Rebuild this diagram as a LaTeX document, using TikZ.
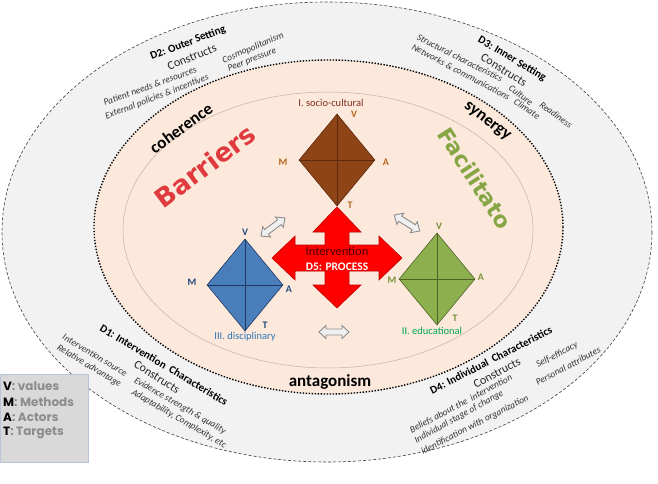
\documentclass[tikz,border=0pt]{standalone}
\usepackage{fontspec}
\setmainfont{Carlito}
\newfontfamily\legfont{Poppins}
\newfontfamily\bigfont{DejaVu Sans}
\usetikzlibrary{shapes.geometric}

\definecolor{outergray}{HTML}{F2F2F2}
\definecolor{peach}{HTML}{FCE9DB}
\definecolor{thinline}{HTML}{C9AFA5}
\definecolor{brownfill}{HTML}{8E4417}
\definecolor{brownline}{HTML}{5C2A0E}
\definecolor{brownlab}{HTML}{B8651B}
\definecolor{browntitle}{HTML}{7F2F1F}
\definecolor{bluefill}{HTML}{4A7EBB}
\definecolor{blueline}{HTML}{1F3864}
\definecolor{bluelab}{HTML}{1F497D}
\definecolor{bluetitle}{HTML}{2E75B6}
\definecolor{greenfill}{HTML}{8DB04F}
\definecolor{greenline}{HTML}{4F6228}
\definecolor{greenlab}{HTML}{77933C}
\definecolor{greentitle}{HTML}{00A550}
\definecolor{redarrow}{HTML}{FF0000}
\definecolor{redarrowline}{HTML}{C00000}
\definecolor{darkred}{HTML}{4A0000}
\definecolor{barred}{HTML}{E03A3E}
\definecolor{facgreen}{HTML}{86A646}
\definecolor{leggray}{HTML}{D9D9D9}
\definecolor{legborder}{HTML}{B9C5D6}
\definecolor{legtext}{HTML}{8C8C8C}

\tikzset{
 dia/.style={shape=diamond, minimum width=76pt, minimum height=92pt, inner sep=0pt, line width=0.6pt},
 vmat/.style={font=\bfseries\fontsize{10}{10}\selectfont, inner sep=0pt},
 dtitle/.style={font=\fontsize{10.5}{10.5}\selectfont, inner sep=0pt},
 dhead/.style={font=\bfseries\fontsize{11}{11}\selectfont, inner sep=0pt},
 dcons/.style={font=\fontsize{12}{12}\selectfont, inner sep=0pt, text=black!85},
 ditem/.style={font=\itshape\fontsize{9.4}{9.4}\selectfont, inner sep=0pt, text=black!80},
 rel/.style={font=\bfseries\fontsize{17}{17}\selectfont, inner sep=0pt},
 grayarrow/.style={fill=black!6, draw=black!45, line width=0.9pt},
 legline/.style={anchor=west, font=\legfont\bfseries\fontsize{12}{12}\selectfont, text=legtext, inner sep=0pt},
 bigword/.style={font=\bigfont\bfseries\fontsize{26}{26}\selectfont, inner sep=0pt},
 facword/.style={font=\bigfont\bfseries\fontsize{22}{22}\selectfont, inner sep=0pt},
}

\begin{document}
\begin{tikzpicture}[x=1pt,y=-1pt]
\useasboundingbox (0,0) rectangle (658,484);
\fill[white] (0,0) rectangle (658,484);

% rings
\draw[fill=outergray, draw=black!75, dash pattern=on 3pt off 2pt, line width=0.6pt] (327,232) ellipse [x radius=325, y radius=230];
\draw[fill=peach, draw=black, dash pattern=on 1.4pt off 1.6pt, line width=1.4pt] (328.5,227) ellipse [x radius=234.5, y radius=167];
\draw[thinline, line width=0.5pt] (328,230) ellipse [x radius=205, y radius=138];

% outer ring texts: D2
\node[dhead, rotate=21] (d2h) at (188,43) {D2: Outer Setting};
\node[dcons, rotate=22] (d2c) at (192,57) {Constructs};
\node[ditem, rotate=20] (d2a) at (150,86) {Patient needs \& resources};
\node[ditem, rotate=21] (d2b) at (157,97) {External policies \& incentives};
\node[ditem, rotate=23] (d2d) at (253,48) {Cosmopolitanism};
\node[ditem, rotate=22] (d2e) at (252,60) {Peer pressure};
% D3
\node[dhead, rotate=-31] (d3h) at (512,59) {D3: Inner Setting};
\node[dcons, rotate=-32] (d3c) at (504,70) {Constructs};
\node[ditem, rotate=-27] (d3a) at (460,58) {Structural characteristics};
\node[ditem, rotate=-37] (d3b) at (521,95) {Culture};
\node[ditem, rotate=-37] (d3d) at (556,115) {Readiness};
\node[ditem, rotate=-28] (d3e) at (461,72) {Networks \& communications};
\node[ditem, rotate=-34] (d3f) at (527,109) {Climate};
% D1
\node[dhead, rotate=-31] (d1h) at (164,365) {D1: Intervention\ \ Characteristics};
\node[dcons, rotate=-33] (d1c) at (157,377) {Constructs};
\node[ditem, rotate=-31] (d1a) at (95,355) {Intervention source};
\node[ditem, rotate=-31] (d1b) at (89,366) {Relative advantage};
\node[ditem, rotate=-30] (d1d) at (180,406) {Evidence strength \& quality};
\node[ditem, rotate=-30] (d1e) at (179,419) {Adaptability, Complexity, etc};
% D4
\node[dhead, rotate=27] (d4h) at (491,360) {D4: Individual\ \ Characteristics};
\node[dcons, rotate=29] (d4c) at (497,373) {Constructs};
\node[ditem, rotate=28] (d4a) at (557,355) {Self-efficacy};
\node[ditem, rotate=28] (d4b) at (568,366) {Personal attributes};
\node[ditem, rotate=28] (d4d) at (461,404) {Beliefs about the\ \ intervention};
\node[ditem, rotate=29] (d4e) at (459,417) {Individual stage of change};
\node[ditem, rotate=27] (d4f) at (475,425) {identification with organization};

% relation words
\node[rel, rotate=36] (coh) at (181,128) {coherence};
\node[rel, rotate=-37] (syn) at (487,122) {synergy};
\node[rel] (ant) at (330,382) {antagonism};

% Barriers / Facilitato
\node[bigword, text=barred, rotate=37] (bar) at (205,166) {Barriers};
\node[facword, text=facgreen, rotate=-57] (fac) at (475,178) {Facilitato};

% diamonds
\node[dia, fill=brownfill, draw=brownline] (brown) at (337,160) {};
\draw[brownline, line width=0.8pt] (brown.north) -- (brown.south) (brown.west) -- (brown.east);
\node[dia, fill=bluefill, draw=blueline] (blue) at (245,285) {};
\draw[blueline, line width=0.8pt] (blue.north) -- (blue.south) (blue.west) -- (blue.east);
\node[dia, fill=greenfill, draw=greenline] (green) at (437,279) {};
\draw[greenline, line width=0.8pt] (green.north) -- (green.south) (green.west) -- (green.east);

% diamond labels
\node[dtitle, text=browntitle] (bTit) at (331,103) {I. socio-cultural};
\node[vmat, text=brownlab] (bV) at (354,114) {V};
\node[vmat, text=brownlab] (bM) at (283,162) {M};
\node[vmat, text=brownlab] (bA) at (386,162) {A};
\node[vmat, text=brownlab] (bT) at (350,205) {T};

\node[dtitle, text=bluetitle] (blTit) at (245,337) {III. disciplinary};
\node[vmat, text=bluelab] (blV) at (245,232) {V};
\node[vmat, text=bluelab] (blM) at (192,282) {M};
\node[vmat, text=bluelab] (blA) at (289,289) {A};
\node[vmat, text=bluelab] (blT) at (265,325) {T};

\node[dtitle, text=greentitle] (gTit) at (432,331) {II. educational};
\node[vmat, text=greenlab] (gV) at (439,226) {V};
\node[vmat, text=greenlab] (gM) at (392,280) {M};
\node[vmat, text=greenlab] (gA) at (481,277) {A};
\node[vmat, text=greenlab] (gT) at (455,318) {T};

% red four-way arrow
\draw[fill=redarrow, draw=redarrowline, line width=0.6pt, line join=miter]
 (272,258) -- (295,236) -- (295,245) -- (325,245) -- (325,232) -- (313,232) -- (337,207)
 -- (361,232) -- (349,232) -- (349,245) -- (379,245) -- (379,236) -- (402,258)
 -- (379,280) -- (379,271) -- (349,271) -- (349,285) -- (361,285) -- (337,308)
 -- (313,285) -- (325,285) -- (325,271) -- (295,271) -- (295,280) -- cycle;
\node[font=\fontsize{12.5}{13}\selectfont, text=darkred, inner sep=0pt] (interv) at (337,251) {Intervention};
\node[font=\bfseries\fontsize{11.5}{12}\selectfont, text=white, inner sep=0pt] (d5) at (337,267) {D5: PROCESS};

% gray double arrows
\begin{scope}[shift={(273,227)}, rotate=37]
\draw[grayarrow] (-15,0) -- (-8,-6.5) -- (-8,-3) -- (8,-3) -- (8,-6.5) -- (15,0) -- (8,6.5) -- (8,3) -- (-8,3) -- (-8,6.5) -- cycle;
\end{scope}
\begin{scope}[shift={(407,223)}, rotate=-32]
\draw[grayarrow] (-15,0) -- (-8,-6.5) -- (-8,-3) -- (8,-3) -- (8,-6.5) -- (15,0) -- (8,6.5) -- (8,3) -- (-8,3) -- (-8,6.5) -- cycle;
\end{scope}
\begin{scope}[shift={(334,332)}]
\draw[grayarrow] (-15,0) -- (-8,-6.5) -- (-8,-3) -- (8,-3) -- (8,-6.5) -- (15,0) -- (8,6.5) -- (8,3) -- (-8,3) -- (-8,6.5) -- cycle;
\end{scope}

% legend
\node[fill=leggray, draw=legborder, line width=0.8pt, minimum width=88pt, minimum height=88pt, anchor=north west, inner sep=0pt] (legend) at (0,374) {};
\node[legline] (lv) at (3,386) {\textcolor{black}{V}: values};
\node[legline] (lm) at (3,402) {\textcolor{black}{M}: Methods};
\node[legline] (la) at (3,417) {\textcolor{black}{A}: Actors};
\node[legline] (lt) at (3,433) {\textcolor{black}{T}: Targets};
\end{tikzpicture}
\end{document}
